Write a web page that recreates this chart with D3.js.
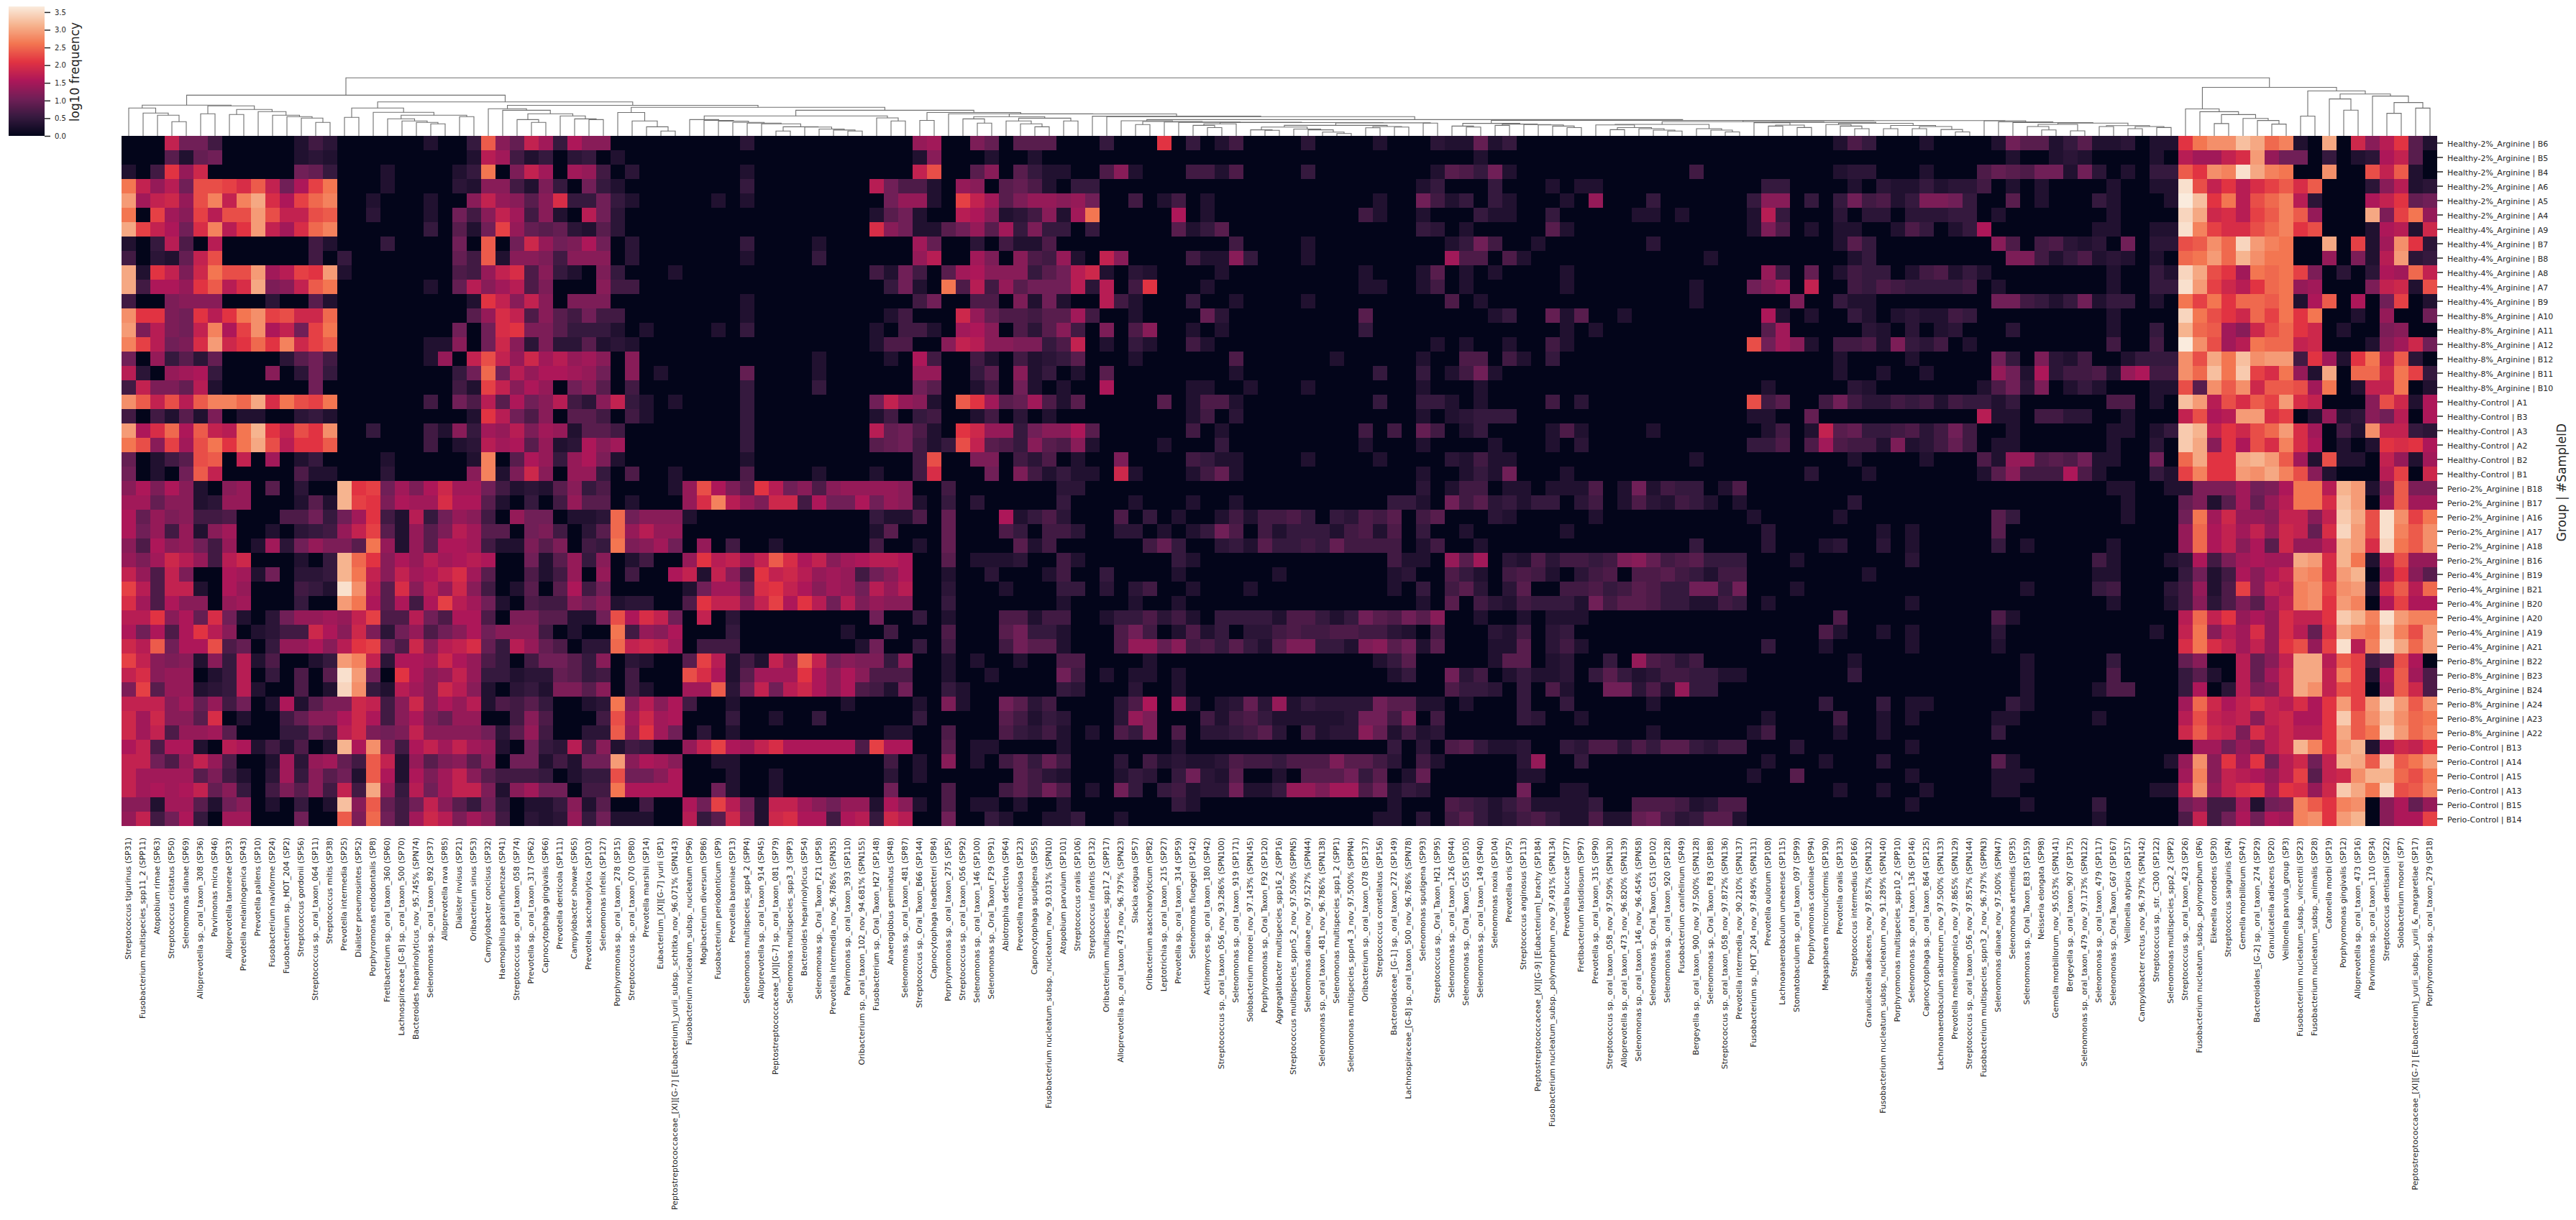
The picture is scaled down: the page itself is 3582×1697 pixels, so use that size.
<!DOCTYPE html>
<html><head><meta charset="utf-8">
<script src="https://cdn.jsdelivr.net/npm/d3@7/dist/d3.min.js"></script>
<style>html,body{margin:0;padding:0;background:#fff;overflow:hidden}text{font-family:"DejaVu Sans",sans-serif;fill:#262626}</style>
</head><body><svg id="c" width="3582" height="1697"></svg>
<script>
// Row labels by experimental group
const healthy2Labels=["Healthy-2%_Arginine | B6","Healthy-2%_Arginine | B5","Healthy-2%_Arginine | B4","Healthy-2%_Arginine | A6","Healthy-2%_Arginine | A5","Healthy-2%_Arginine | A4"];
const healthy4Labels=["Healthy-4%_Arginine | A9","Healthy-4%_Arginine | B7","Healthy-4%_Arginine | B8","Healthy-4%_Arginine | A8","Healthy-4%_Arginine | A7","Healthy-4%_Arginine | B9"];
const healthy8Labels=["Healthy-8%_Arginine | A10","Healthy-8%_Arginine | A11","Healthy-8%_Arginine | A12","Healthy-8%_Arginine | B12","Healthy-8%_Arginine | B11","Healthy-8%_Arginine | B10"];
const healthyCtrlLabels=["Healthy-Control | A1","Healthy-Control | B3","Healthy-Control | A3","Healthy-Control | A2","Healthy-Control | B2","Healthy-Control | B1"];
const perio2Labels=["Perio-2%_Arginine | B18","Perio-2%_Arginine | B17","Perio-2%_Arginine | A16","Perio-2%_Arginine | A17","Perio-2%_Arginine | A18","Perio-2%_Arginine | B16"];
const perio4Labels=["Perio-4%_Arginine | B19","Perio-4%_Arginine | B21","Perio-4%_Arginine | B20","Perio-4%_Arginine | A20","Perio-4%_Arginine | A19","Perio-4%_Arginine | A21"];
const perio8Labels=["Perio-8%_Arginine | B22","Perio-8%_Arginine | B23","Perio-8%_Arginine | B24","Perio-8%_Arginine | A24","Perio-8%_Arginine | A23","Perio-8%_Arginine | A22"];
const perioCtrlLabels=["Perio-Control | B13","Perio-Control | A14","Perio-Control | A15","Perio-Control | A13","Perio-Control | B15","Perio-Control | B14"];
// Column labels (species)
const species=["Streptococcus tigurinus (SP31)","Fusobacterium multispecies_spp11_2 (SPP11)","Atopobium rimae (SP63)","Streptococcus cristatus (SP50)","Selenomonas dianae (SP69)","Alloprevotella sp._oral_taxon_308 (SP36)","Parvimonas micra (SP46)","Alloprevotella tannerae (SP33)","Prevotella melaninogenica (SP43)","Prevotella pallens (SP10)",
"Fusobacterium naviforme (SP24)","Fusobacterium sp._HOT_204 (SP2)","Streptococcus gordonii (SP56)","Streptococcus sp._oral_taxon_064 (SP11)","Streptococcus mitis (SP38)","Prevotella intermedia (SP25)","Dialister pneumosintes (SP52)","Porphyromonas endodontalis (SP8)","Fretibacterium sp._oral_taxon_360 (SP60)","Lachnospiraceae_[G-8] sp._oral_taxon_500 (SP70)",
"Bacteroides heparinolyticus_nov_95.745% (SPN74)","Selenomonas sp._oral_taxon_892 (SP37)","Alloprevotella rava (SP85)","Dialister invisus (SP21)","Oribacterium sinus (SP53)","Campylobacter concisus (SP32)","Haemophilus parainfluenzae (SP41)","Streptococcus sp._oral_taxon_058 (SP74)","Prevotella sp._oral_taxon_317 (SP62)","Capnocytophaga gingivalis (SP66)",
"Prevotella denticola (SP111)","Campylobacter showae (SP65)","Prevotella saccharolytica (SP103)","Selenomonas infelix (SP127)","Porphyromonas sp._oral_taxon_278 (SP15)","Streptococcus sp._oral_taxon_070 (SP80)","Prevotella marshii (SP14)","Eubacterium_[XI][G-7] yurii (SP1)","Peptostreptococcaceae_[XI][G-7] [Eubacterium]_yurii_subsp._schtitka_nov_96.071% (SPN143)","Fusobacterium nucleatum_subsp._nucleatum (SP96)",
"Mogibacterium diversum (SP86)","Fusobacterium periodonticum (SP9)","Prevotella baroniae (SP13)","Selenomonas multispecies_spp4_2 (SPP4)","Alloprevotella sp._oral_taxon_914 (SP45)","Peptostreptococcaceae_[XI][G-7] sp._oral_taxon_081 (SP79)","Selenomonas multispecies_spp3_3 (SPP3)","Bacteroides heparinolyticus (SP54)","Selenomonas sp._Oral_Taxon_F21 (SP58)","Prevotella intermedia_nov_96.786% (SPN35)",
"Parvimonas sp._oral_taxon_393 (SP110)","Oribacterium sp._oral_taxon_102_nov_94.681% (SPN155)","Fusobacterium sp._Oral_Taxon_H27 (SP148)","Anaeroglobus geminatus (SP48)","Selenomonas sp._oral_taxon_481 (SP87)","Streptococcus sp._Oral_Taxon_B66 (SP144)","Capnocytophaga leadbetteri (SP84)","Porphyromonas sp._oral_taxon_275 (SP5)","Streptococcus sp._oral_taxon_056 (SP92)","Selenomonas sp._oral_taxon_146 (SP100)",
"Selenomonas sp._Oral_Taxon_F29 (SP91)","Abiotrophia defectiva (SP64)","Prevotella maculosa (SP123)","Capnocytophaga sputigena (SP55)","Fusobacterium nucleatum_subsp._nucleatum_nov_93.031% (SPN10)","Atopobium parvulum (SP101)","Streptococcus oralis (SP106)","Streptococcus infantis (SP132)","Oribacterium multispecies_spp17_2 (SPP17)","Alloprevotella sp._oral_taxon_473_nov_96.797% (SPN23)",
"Slackia exigua (SP57)","Oribacterium asaccharolyticum (SP82)","Leptotrichia sp._oral_taxon_215 (SP27)","Prevotella sp._oral_taxon_314 (SP59)","Selenomonas flueggei (SP142)","Actinomyces sp._oral_taxon_180 (SP42)","Streptococcus sp._oral_taxon_056_nov_93.286% (SPN100)","Selenomonas sp._oral_taxon_919 (SP171)","Solobacterium moorei_nov_97.143% (SPN145)","Porphyromonas sp._Oral_Taxon_F92 (SP120)",
"Aggregatibacter multispecies_spp16_2 (SPP16)","Streptococcus multispecies_sppn5_2_nov_97.509% (SPPN5)","Selenomonas dianae_nov_97.527% (SPN44)","Selenomonas sp._oral_taxon_481_nov_96.786% (SPN138)","Selenomonas multispecies_spp1_2 (SPP1)","Selenomonas multispecies_sppn4_3_nov_97.500% (SPPN4)","Oribacterium sp._oral_taxon_078 (SP137)","Streptococcus constellatus (SP156)","Bacteroidaceae_[G-1] sp._oral_taxon_272 (SP149)","Lachnospiraceae_[G-8] sp._oral_taxon_500_nov_96.786% (SPN78)",
"Selenomonas sputigena (SP93)","Streptococcus sp._Oral_Taxon_H21 (SP95)","Selenomonas sp._oral_taxon_126 (SP44)","Selenomonas sp._Oral_Taxon_G55 (SP105)","Selenomonas sp._oral_taxon_149 (SP40)","Selenomonas noxia (SP104)","Prevotella oris (SP75)","Streptococcus anginosus (SP113)","Peptostreptococcaceae_[XI][G-9] [Eubacterium]_brachy (SP184)","Fusobacterium nucleatum_subsp._polymorphum_nov_97.491% (SPN134)",
"Prevotella buccae (SP77)","Fretibacterium fastidiosum (SP97)","Prevotella sp._oral_taxon_315 (SP90)","Streptococcus sp._oral_taxon_058_nov_97.509% (SPN130)","Alloprevotella sp._oral_taxon_473_nov_96.820% (SPN139)","Selenomonas sp._oral_taxon_146_nov_96.454% (SPN58)","Selenomonas sp._Oral_Taxon_G51 (SP102)","Selenomonas sp._oral_taxon_920 (SP128)","Fusobacterium canifelinum (SP49)","Bergeyella sp._oral_taxon_900_nov_97.500% (SPN128)",
"Selenomonas sp._Oral_Taxon_F83 (SP188)","Streptococcus sp._oral_taxon_058_nov_97.872% (SPN136)","Prevotella intermedia_nov_90.210% (SPN137)","Fusobacterium sp._HOT_204_nov_97.849% (SPN131)","Prevotella oulorum (SP108)","Lachnoanaerobaculum umeaense (SP115)","Stomatobaculum sp._oral_taxon_097 (SP99)","Porphyromonas catoniae (SP94)","Megasphaera micronuciformis (SP190)","Prevotella oralis (SP133)",
"Streptococcus intermedius (SP166)","Granulicatella adiacens_nov_97.857% (SPN132)","Fusobacterium nucleatum_subsp._nucleatum_nov_91.289% (SPN140)","Porphyromonas multispecies_spp10_2 (SPP10)","Selenomonas sp._oral_taxon_136 (SP146)","Capnocytophaga sp._oral_taxon_864 (SP125)","Lachnoanaerobaculum saburreum_nov_97.500% (SPN133)","Prevotella melaninogenica_nov_97.865% (SPN129)","Streptococcus sp._oral_taxon_056_nov_97.857% (SPN144)","Fusobacterium multispecies_sppn3_2_nov_96.797% (SPPN3)",
"Selenomonas dianae_nov_97.500% (SPN47)","Selenomonas artemidis (SP35)","Selenomonas sp._Oral_Taxon_E83 (SP159)","Neisseria elongata (SP98)","Gemella morbillorum_nov_95.053% (SPN141)","Bergeyella sp._oral_taxon_907 (SP175)","Selenomonas sp._oral_taxon_479_nov_97.173% (SPN122)","Selenomonas sp._oral_taxon_479 (SP117)","Selenomonas sp._Oral_Taxon_G67 (SP167)","Veillonella atypica (SP157)",
"Campylobacter rectus_nov_96.797% (SPN142)","Streptococcus sp._str._C300 (SP122)","Selenomonas multispecies_spp2_2 (SPP2)","Streptococcus sp._oral_taxon_423 (SP26)","Fusobacterium nucleatum_subsp._polymorphum (SP6)","Eikenella corrodens (SP30)","Streptococcus sanguinis (SP4)","Gemella morbillorum (SP47)","Bacteroidales_[G-2] sp._oral_taxon_274 (SP29)","Granulicatella adiacens (SP20)",
"Veillonella parvula_group (SP3)","Fusobacterium nucleatum_subsp._vincentii (SP23)","Fusobacterium nucleatum_subsp._animalis (SP28)","Catonella morbi (SP19)","Porphyromonas gingivalis (SP12)","Alloprevotella sp._oral_taxon_473 (SP16)","Parvimonas sp._oral_taxon_110 (SP34)","Streptococcus dentisani (SP22)","Solobacterium moorei (SP7)","Peptostreptococcaceae_[XI][G-7] [Eubacterium]_yurii_subsp._yurii_&_margaretiae (SP17)","Porphyromonas sp._oral_taxon_279 (SP18)"];

// Values: one base-36 character per cell; 0 -> 0, z -> 3.66 log10 frequency.
const Z="0000000000";
const healthy2=[
`000haa6000 0036400000 03005nc9he 5fcc000000 0004000000 000000de00b 9088800050 00k0503600 0040000300 0433935000 ${Z} 0000000003 7500030000 3a88358334 033kprrvto q30t0icgk83`.replace("000000de00b","00000de00b"),
`000839a000 0034300000 00003ge635 0450300000 ${Z} 000003c000 3003000000 ${Z} ${Z} 0000300000 ${Z} ${Z} ${Z} 0300343000 030geehjsd aa05034fh80`,
`306kdi0000 00a9500030 00035p0bhe 0ed6040000 0003000000 00000hm008 c08533007c 3000663700 0050000000 03875a3000 0000000006 0000000003 4400030007 987aa3a403 055nkrqytq p00r00mhn30`,
`phdgammljn haflp00030 00043cc63b 50a5300000 0005000000 00ga7730dc 0897305500 ${Z} ${Z} 3500050003 0330000000 0000550000 3043353446 0303000030 033ymhkgjl njn0004cg34`,
`sehidmqhqt jfloq00300 0300chdc8c j55a530000 0303000000 000add30lh e8bddcda00 6036030000 0000000300 a635053000 30d0005000 0005cc0505 a6735bba50 0803000530 003zvkpgmo qg4000fhk9a`,
`p0leclgmms mhhmn00400 030a6che6c 30ga400000 ${Z} 0038a300gf c346c3ep00 000f030000 0000006300 3000533005 0000033030 0003g50004 0440444550 3000000030 000xtijgln qnd000tblpd`];
const healthy4=[
`tlhfajqgks hejoq00000 05083ald98 9438400000 ${Z} 00jca338ad 8e5b550500 0008358000 ${Z} 5403000008 3000000000 0003b70303 300375035f 0000000330 033yqljjmo qkm0003fg3i`,
`305g70g000 0006300050 000a0n0aid abfa040000 0005000030 00000e9004 0633700000 0000000600 0030000000 0035a60030 0000004000 0000000003 8500000000 c70674340a 044mnroxsq p00t0l3erk4`,
`60439hm000 0006050000 00096n3ccb 6ccc040000 0003000050 00000dg00e b0c76d30hc 0000633c50 0030000000 00e7707300 ${Z} 3000000000 3500000000 0bb6357343 030opsourp p00d0b3gs45`,
`t3khbipmms eglks30000 00076dhj7c 530b500030 ${Z} 0063a608ef ccc58agi30 4300003000 0000003000 3803030000 3000000000 0000d60903 6550367353 0000000030 053xtmkepo plb0404feoh`,
`t6ffdkngjt bchnp00000 0309gceg7b 000c660000 ${Z} 0005a30p7g 6d8aaag4g0 6k00030000 0000003300 3603000000 3000000003 000ace0h00 6576555560 3000000030 055ysligko pde000bhi3m`,
`600bccc000 4008300000 00003khchc 0bbb000000 0003000000 000006a007 70b3a300g6 3000500300 0030000000 0070300000 0000000003 000000b005 3300000000 aa6535a355 030plpkoon p3fn0f0al03`];
const healthy8=[
`rkkbakgkpr lmiio00000 00008djh7c 86a6600000 0003000000 00036000id 977688e600 3000094000 0000008000 0000035009 3800300000 0000f30300 5303433650 0000000030 000xpmkiol pkp0030d00a`,
`sbgbahqflr fhalp00000 000a0ajkbb 8555303000 0305000000 00306630ef c0748c60b0 7c00303000 0000005000 ${Z} 3030000000 00008e0000 0430403400 0400000030 050uonecim oki0300bc00`,
`qlgabjsiko kqiln00000 033c0aic4b 4483430000 ${Z} 0037700chg ccbb57h030 5300630000 ${Z} 0303003006 3000000000 000maec306 673b546030 0000000060 060zrmegpo ohi0003ceia`,
`a0d5849000 048a600000 03d0hmhdie gdec0c0000 0000000030 00030f6006 3063458000 3000000700 0000300000 3007706305 ${Z} 0000000003 0000300000 a50b436003 555rmtpvrs s6ke3kpgn40`,
`g40def5000 c04a500000 0005aoagdf feda0c0300 0009000030 00000dd005 80c3503080 0000000300 0000000500 5036a30000 ${Z} 0000000003 0030030000 da3f46673d f66rovpwlj pd3t0ooipl5`,
`6hbb9g3000 000a000000 00063lhcfd 0ac8060000 0005000050 00000a8003 60a30300f0 0000330030 0030000000 3000300000 ${Z} 0000300000 4300000003 7a4b035300 033m8rnrin nmep03hhp03`];
const healthyCtrl=[
`rnhmgnqqot jpmlp00000 060a7g8fac g64ch53030 0005000000 00ahdc30nk e89e738000 0080377300 0000000500 5530300006 0400000000 000m68006a 6446563655 3500000077 030vsgmjnl sjh000cmi3f`,
`606383b033 0045300000 00003kga7c 0886063000 0005000000 0036056003 6040300000 0000360400 ${Z} 3034555000 ${Z} 0003300900 000000000g 3306644003 000hmfgssj l03d34cag0f`,
`sfjofnhgpu khmkr00500 063c5edgbe d388600000 0005000000 00g9a730ki dd5accf800 0000603000 0000006060 9603500003 7300003000 00003603h8 9556746a60 0300000033 035wuhkimo sje063rhh54`,
`pmclempkpt mgkkn00000 06034gef8d 34fce00000 0005000000 0089a635mh 875c87c300 0030005000 0000003000 3000030003 0400000000 00055707e7 663b346960 3300000030 040wtckfmj qjf0303kjkf`,
`90368mn0h0 e035000030 00003q08fd 5dfb300000 0003000000 000006m00b b06470300b 0000653300 0030000300 0043633000 0000000003 ${Z} 3000030007 3dd787a330 0a0otkktus ne3m330hd3e`,
`a030anh000 0073300040 0000cq3bic 0dd5070030 0007000030 003006j000 a0b635330i 3000369300 ${Z} 300353a000 3000000000 0000000400 0300000003 8c666f7300 053lqkksrt qmc3000gl0i`];
const perio2=[
`cfbfc30cd0 80400uklae bfieea6343 8c5700003d mfb8kgac7c ddddc00600 0000044000 ${Z} ${Z} 4036603303 33703a3655 0370000000 ${Z} 0000000033 0033bbbeab fppgus3cnbb`,
`ee9cc34dd0 00383ulkbf eejff83050 6d8803000d jqgdbii6fa afadc30504 0000050000 3000300300 0000000055 30a6845355 0460374365 3030000000 4000000000 0000000003 0009b38e9d gppjvs0enee`,
`f9dbc66700 077a5aek63 g5adc60daa 0334oaccc3 ${Z} 0053370900 0f35740007 0503003636 6750547680 6800043000 0030000000 0003000003 ${Z} 8500000003 000apeiddc hhchwtmyrlp`,
`fad6d3ce00 30456dhl83 d8bge880ab 6048odgdd0 ${Z} 0038000900 0750664004 403035a706 3555367370 5003000000 3000000000 0000400000 0030300000 8000000000 000dofhehd ih9jxsmyqnr`,
`c7fcda6d03 e4adbb8pd3 d8ffe633b8 b065pbcea0 d060030000 0060030900 0083600000 0695004538 5565966660 3600300000 0000000005 0000400034 0040300000 5030000030 000dofhcf8 iddgusjxpnr`,
`dbeigd6gi0 00305uokcf dgefgf00a3 8d5c03600d kghehnjfhc efggf00803 3340063000 0005300000 0000000063 30d8e04374 6656bc9678 5550003000 0000400000 0000000630 0034f6befe etsjup3gmdd`];
const perio4=[
`hd7hb00fe3 a0445uphch efhje80073 6d0d0600fh 3hc6khigde d6acf00300 4000360050 0003000000 3000000034 0075306763 0467077865 3660000000 0300000000 0000000330 0005a36fcf hrqjsu0ekc8`,
`lg7hh30fd0 00653yrg8j cgdic60380 8f6a000003 aee9jkhfce dagdg00400 0300055040 4600300030 0000000030 5068404800 667568755a a5a0003000 ${Z} 0030000560 0046d37lch gqrlrs3jngo`,
`je7fcc0de0 00500spf8f 6flgea3076 6cac344007 khhchlfkga gbdcc00500 0000030000 3003000000 ${Z} 3080643655 53a6887553 3650300000 0000300000 0000000030 0036c47b8e hqrksq0flff`,
`ggkcf9ja30 4addedhl77 ga7ff70bb8 833amfjha0 h040000000 00a0050300 0773660035 5746305555 377535a87a 8c00300303 3300000000 0000000007 ${Z} 7300000000 000gohkdfd jhhkwuqysqq`,
`faf7fkgc03 466ifcib4a d7acfaccc6 0300p6dcf0 0050000000 3006000700 08a5530007 a603735044 6766776643 0600043604 5000000000 0000000073 0030300000 4000000000 030hpcgejd jg9jtqpwqms`,
`ignaffm790 5ddfcgkla7 icghj95gd9 7044ohihe0 6660000000 03a0050600 06a8830007 dd9c675853 8bb553bc8a 3800033804 6300000000 0000500030 0000300000 3000000000 000jpjhehd kmdlygqytos`];
const perio8=[
`lhcbc3c5g3 70035sqh4f feifd7506a a85c043008 lg363hdnha cbb5c00303 0030077000 0300000000 0000000358 0000038803 40050d7646 ${Z} 3000000000 0030000050 0009c00g9c httgnl68mf0`,
`hjcdd035g0 50708ysa0k fcdhd55344 985606000m jf38eeekfc fc77700300 30000a6030 3303000000 0000000035 00a4603533 4058534665 5330000000 5000000000 0030000070 0005830g9e itthql3fne7`,
`bl8dd345g3 00703xr53g ecigc30453 bb8c06300e en4ahagifc f763a00530 0000054000 4003000000 ${Z} 0075540507 300aa473d5 5000000000 ${Z} 0030000377 0005f04gbc itrhml0eni7`,
`hhhce9d6a0 3f38bbih6c icfdg37685 0034pcgcf6 0030000000 3000030b30 0a84600004 7f0e303494 d354444a88 3303000500 5000003000 0000000050 0050330000 0530000000 000eoifhjh gjfkslsxsnr`,
`ieicc8j030 069ccfif6c fb9dd006c7 0006meief0 0050030050 0000050000 0863540004 db00063675 333334aa6b 0600000540 0300000000 0000300006 0030300000 3300000300 000gmhghch iffkwnrvrop`,
`ieh7dde800 05597gibab hcccca48d6 0044ndkea0 4030000000 0003300700 0754630307 5b07044568 406344c936 3400000000 0000003000 0003600003 0030000000 5000000000 000inihbjg iggktnpxsoq`];
const perioCtrl=[
`fh7ff30gf3 63703ufrc6 fhehed30a5 4g6c36500d hlfehjffff f7lff00803 3000030000 0003000000 0000000050 4078533400 5477475885 4660004000 0000300000 ${Z} 0000eeadbg iuqksu3fihk`,
`hha7dhd700 3e4de96nh3 d8bc8c0aa3 63aascfec0 0330000000 0006030c03 0685960004 0634334766 5777b88640 63000004d0 0500000000 0000300030 0040000000 8300000000 003drckeka giahutnwnps`,
`heeee8b630 4e5c8a3nf3 fbehc86665 0355maacf0 0030030000 0004030000 0086430003 5405a43800 30888a5803 9000000330 ${Z} 0003008000 0000300000 3330000000 000eqchgfd gl8hiruuomp`,
`hefefh9c50 6b8c6h6td5 gaehhb3cea a066pffff0 0a30030000 000a000700 0686a7030a 5056344a33 5ddbee7a35 4000000a00 3300000000 0000000003 0030030000 3300000000 033hrdhjke kjdiwtpxmnq`,
`cc3ee83ac0 30503vcn96 ahc85a5033 5c3800600f alga3hheca dd3fc30703 3030030000 0005300000 0000000030 0076535733 3350077763 4770000000 0000300000 0030000500 000ac66e3a bqnkqr0cf9d`,
`dh6af50ee0 00a00nboa6 eigbec6043 4d5a33300g 58ib3ijff6 fg5ig00a00 5300335003 ${Z} 0000000330 4068534675 337339a645 8830000000 ${Z} 0000000300 0007h6afaf eqrksu0cffl`];

// Column dendrogram: [merge height, left, right]; numbers are column indices. Heights in distance units.
const dB=[42.7,[38.7,0,[31.7,1,[28.7,2,[19.7,3,4]]]],[41.7,[30.7,5,6],[36.7,[29.7,7,8],[33.7,9,[28.7,10,[26.7,11,[24.7,12,[18.7,13,14]]]]]]]];
const dC=[38.7,[25.7,15,16],[32.7,17,[28.7,[23.7,18,[20.7,19,[18.7,20,[16.7,21,22]]]],[26.7,23,24]]]];
const dD=[37.7,25,[35.6,26,[30.8,[22.6,27,[18.7,28,29]],[27.7,30,[23.6,31,[22.6,32,33]]]]]];
const dE=[32.5,34,[20.8,35,[12.6,36,[6.7,37,38]]]];
const dF=[27.7,[22.6,39,[21.5,40,[20.5,41,[18.8,42,[17.7,43,[16.7,44,[12.6,[6.7,45,46],[12.2,47,[9.5,48,[8.1,49,[6.7,50,51]]]]]]]]]]],[25,52,[20.8,53,54]]];
const dY=[26.7,[23.6,58,[17.7,59,60]],[24.6,[20.8,61,[16.7,62,[12.6,63,64]]],[20.8,65,66]]];
const dWL=[21,69,[20,[15.7,70,71],[19.3,72,[18.9,73,[18.5,[16.7,[14.6,74,[11.5,75,76]],77],[18.1,[14.6,[12.2,[8.4,78,[7.7,79,80]],[9.5,81,[8.4,82,[5.3,83,[3.3,84,85]]]]],[13,[11.2,86,87],[12.2,88,89]]],[17.7,90,91]]]]]]];
const dL=[17.4,[13.6,92,[12.2,93,94]],[16.4,[14.6,95,96],[15.7,97,[15.3,98,[13.6,99,[11.5,100,101]]]]]];
const dLad=[16,[15.3,102,[11.5,[8.6,103,104],[10,105,[8,106,[6.7,107,108]]]]],[10,109,[8,110,[5.5,111,112]]]];
const dRest=[18.9,[18.4,113,[15,[13.6,114,115],[11.6,116,117]]],[17.5,[15.7,118,[13.6,119,[10,120,121]]],[14.5,[10,122,123],[13,[10,124,125],[8.9,126,[5.5,127,128]]]]]];
const dCR=[21,129,[19.5,130,[18.5,131,[17.8,[16,[13,132,[8.2,133,134]],[7,135,136]],[14.3,[13,137,138],[13,[10,139,140],[11.6,141,142]]]]]]];
const dW=[22.6,dWL,[21.5,dL,[21.2,[19.8,dLad,dRest],dCR]]];
const dG=[32.5,[21.5,55,56],[30.8,57,[30.5,dY,[27.4,67,[26.7,68,dW]]]]];
const dRight=[67.5,[37.5,143,[33.6,144,[29.6,[17.1,145,146],[24.3,147,[21.4,148,[16.4,149,150]]]]]],[62.5,[27.5,151,152],[58.2,[51.4,153,[35.7,154,155]],[55.4,156,[46.4,[31.4,157,158],[38.6,159,160]]]]]];
const dLeft=[56.6,dB,[47.3,dC,[42.5,dD,[39.8,dE,[35.6,dF,dG]]]]];
const dRoot=[80.7,dLeft,dRight];

const cbTicks=[0,.5,1,1.5,2,2.5,3,3.5];
const vmax=3.66;

// ---- build ----
const rowLabels=[...healthy2Labels,...healthy4Labels,...healthy8Labels,...healthyCtrlLabels,...perio2Labels,...perio4Labels,...perio8Labels,...perioCtrlLabels];
const rowStrings=[...healthy2,...healthy4,...healthy8,...healthyCtrl,...perio2,...perio4,...perio8,...perioCtrl];
const matrix=rowStrings.map(s=>{s=s.replace(/ /g,"");if(s.length!==161)console.error("row length",s.length,s);return Array.from(s.padEnd(161,"0").slice(0,161),c=>parseInt(c,36)/35*vmax)});

const rocketStops=["#03051a","#35193e","#701f57","#ad1759","#e13342","#f37651","#f6b48f","#faebdd"];
const color=d3.scaleLinear().domain(rocketStops.map((_,i)=>i/7*vmax)).range(rocketStops).interpolate(d3.interpolateRgb).clamp(true);

const L=169,R=3389,T=189,B=1149;
const x=d3.scaleBand().domain(species).range([L,R]);
const y=d3.scaleBand().domain(rowLabels).range([T,B]);
const svg=d3.select("#c");

// heatmap cells
svg.append("g").attr("shape-rendering","crispEdges").selectAll("g").data(matrix).join("g")
  .attr("transform",(d,i)=>`translate(0,${y(rowLabels[i])})`)
  .selectAll("rect").data(d=>d).join("rect")
  .attr("x",(d,j)=>x(species[j])).attr("width",x.bandwidth()).attr("height",y.bandwidth()).attr("fill",d=>color(d));

// right axis
const gy=svg.append("g").attr("transform",`translate(${R},0)`).call(d3.axisRight(y).tickSize(8).tickPadding(6));
gy.select(".domain").remove();
gy.selectAll("line").attr("stroke","#262626").attr("stroke-width",1.5);
gy.selectAll("text").attr("font-size",11).attr("dy","0.42em").attr("font-family","DejaVu Sans");

// bottom axis
const gx=svg.append("g").attr("transform",`translate(0,${B})`).call(d3.axisBottom(x).tickSize(0));
gx.select(".domain").remove();
gx.selectAll("text").attr("font-size",11).attr("font-family","DejaVu Sans")
  .attr("text-anchor","end").attr("dy",0).attr("y",0)
  .attr("transform","translate(-1,16) rotate(-90)").attr("dominant-baseline","central");

// axis title
svg.append("text").attr("transform",`translate(3562,${(T+B)/2+2}) rotate(-90)`).attr("text-anchor","middle").attr("dominant-baseline","central").attr("font-size",17).text("Group | #SampleID");

// dendrogram
const h=d3.scaleLinear().domain([0,80.7]).range([T,108.3]);
const links=[];
function walk(n){
  if(typeof n==="number") return {c:x(species[n])+x.bandwidth()/2,y:T};
  const a=walk(n[1]),b=walk(n[2]),yy=h(n[0]);
  links.push([a,b,yy]);
  return {c:(a.c+b.c)/2,y:yy};
}
walk(dRoot);
svg.append("g").attr("fill","none").attr("stroke","#6f6f6f").attr("stroke-width",1.1)
  .selectAll("path").data(links).join("path")
  .attr("d",d=>{const p=d3.path();p.moveTo(d[0].c,d[0].y);p.lineTo(d[0].c,d[2]);p.lineTo(d[1].c,d[2]);p.lineTo(d[1].c,d[1].y);return p.toString();});

// colorbar
const cb=d3.scaleLinear().domain([0,vmax]).range([T,9]);
svg.append("g").attr("shape-rendering","crispEdges").selectAll("rect").data(d3.range(9,189)).join("rect")
  .attr("x",12).attr("width",50).attr("y",d=>d).attr("height",1.2).attr("fill",d=>color(cb.invert(d+.5)));
const gc=svg.append("g").attr("transform","translate(62,0)").call(d3.axisRight(cb).tickValues(cbTicks).tickFormat(d3.format(".1f")).tickSize(8).tickPadding(6));
gc.select(".domain").remove();
gc.selectAll("line").attr("stroke","#262626").attr("stroke-width",1.5);
gc.selectAll("text").attr("font-size",10).attr("font-family","DejaVu Sans");
svg.append("text").attr("transform","translate(104,100) rotate(-90)").attr("text-anchor","middle").attr("dominant-baseline","central").attr("font-size",17).text("log10 frequency");
</script></body></html>
